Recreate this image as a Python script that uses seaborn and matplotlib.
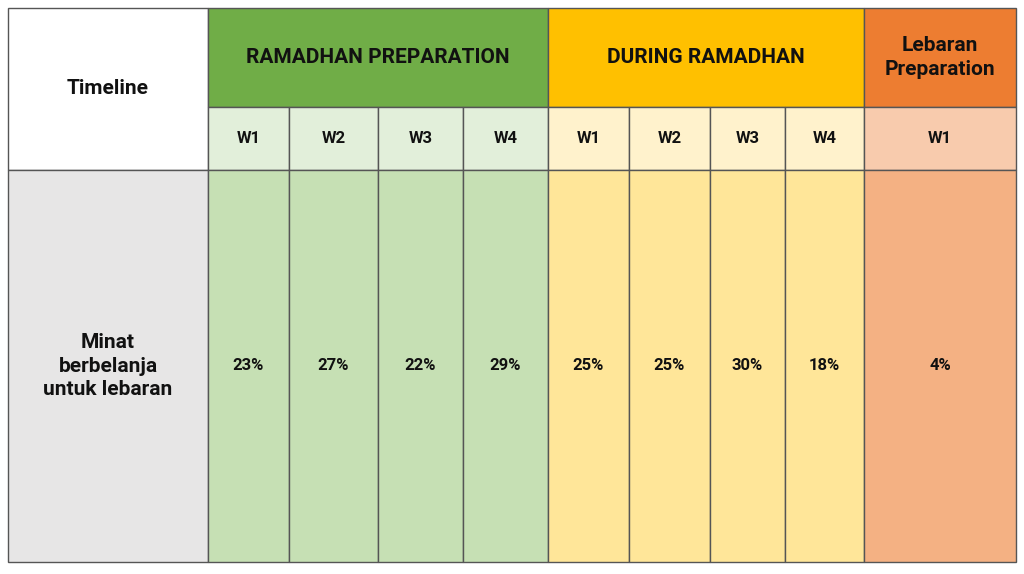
import matplotlib
matplotlib.use("Agg")
import matplotlib.pyplot as plt
from matplotlib.patches import Rectangle
import seaborn as sns

# data
groups = ["RAMADHAN PREPARATION", "DURING RAMADHAN", "Lebaran\nPreparation"]
weeks = [["W1", "W2", "W3", "W4"], ["W1", "W2", "W3", "W4"], ["W1"]]
values = [[23, 27, 22, 29], [25, 25, 30, 18], [4]]
row_label = "Minat\nberbelanja\nuntuk lebaran"
corner_label = "Timeline"

# layout / style
col_edges = [208, 289, 378, 463, 548, 629, 710, 785, 864, 1016]
left, top, y1, y2, bottom = 8, 8, 107, 170, 562
head_c = ["#70AD47", "#FFC000", "#ED7D31"]
week_c = ["#E2EFDA", "#FFF2CC", "#F8CBAD"]
val_c = ["#C6E0B4", "#FFE699", "#F4B183"]

sns.set_theme(style="white")
fig = plt.figure(figsize=(10.24, 5.74), dpi=100)
ax = fig.add_axes([0, 0, 1, 1])
ax.set_xlim(0, 1024); ax.set_ylim(574, 0); ax.axis("off")
font = "Roboto"
lw = 1.0

def cell(x0, y0, x1, y1_, fc, text, size=13, color="#111111"):
    ax.add_patch(Rectangle((x0, y0), x1 - x0, y1_ - y0, facecolor=fc, edgecolor="#555555", lw=lw))
    if text:
        ax.text((x0 + x1) / 2, (y0 + y1_) / 2, text, ha="center", va="center",
                fontsize=size, fontweight="bold", family=font, color=color, linespacing=1.3)

cell(left, top, col_edges[0], y2, "white", corner_label, 15)
cell(left, y2, col_edges[0], bottom, "#E7E6E6", row_label, 15)

ci = 0
for g, (name, wk, vals) in enumerate(zip(groups, weeks, values)):
    gx0 = col_edges[ci]; gx1 = col_edges[ci + len(wk)]
    cell(gx0, top, gx1, y1, head_c[g], name, 15)
    for w, v in zip(wk, vals):
        x0, x1 = col_edges[ci], col_edges[ci + 1]
        cell(x0, y1, x1, y2, week_c[g], w, 12)
        cell(x0, y2, x1, bottom, val_c[g], f"{v}%", 12)
        ci += 1

fig.savefig("out.png", dpi=100)
